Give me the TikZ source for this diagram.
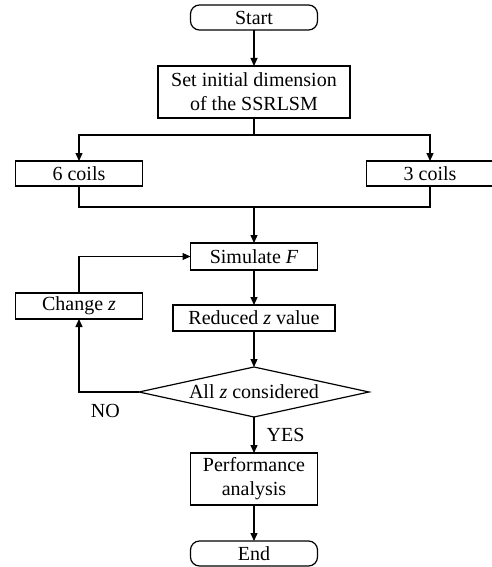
\documentclass[tikz,border=0pt]{standalone}
\usepackage{fontspec}
\setmainfont{Liberation Serif}
\usetikzlibrary{arrows.meta,positioning,calc,shapes.geometric}

\begin{document}
\begin{tikzpicture}[
  font=\fontsize{20}{24}\selectfont,
  line width=1.2pt,
  bx/.style={draw, align=center, minimum width=127pt, minimum height=26pt,
    inner xsep=2pt, inner ysep=1pt, outer sep=0pt},
  trm/.style={bx, rounded corners=9pt, minimum height=25pt},
  dec/.style={draw, diamond, aspect=4.6, inner sep=0pt, outer sep=0pt,
    minimum width=230pt, minimum height=50pt},
  arr/.style={-{Triangle[length=8pt,width=7pt]}},
  lbl/.style={inner sep=2pt}
]
\useasboundingbox (0,0) rectangle (491pt,-567pt);
\node[trm] (st) at (254pt,-17.5pt) {Start};
\node[bx, below=36pt of st, minimum width=192pt, minimum height=52pt] (set) {Set initial dimension\\of the SSRLSM};
\node[bx, below=43pt of set, xshift=-175pt, minimum height=25pt] (six) {6 coils};
\node[bx, below=43pt of set, xshift=176pt, minimum height=25pt] (thr) {3 coils};
\node[bx, below=125pt of set, minimum height=27pt] (sim) {Simulate \textit{F}};
\node[bx, below=107pt of six] (chg) {Change \textit{z}};
\node[bx, below=35pt of sim, minimum width=162pt] (red) {Reduced \textit{z} value};
\node[dec, below=36pt of red] (all) {All \textit{z} considered};
\node[bx, below=36pt of all, minimum height=52pt] (perf) {Performance\\analysis};
\node[trm, below=36pt of perf] (end) {End};
% split and join of the two coil branches
\coordinate (sp) at ($(set.south)+(0,-17pt)$);
\coordinate (jn) at ($(six.south)+(0,-21pt)$);
\draw[arr] (st) -- (set);
\draw (set.south) -- (sp);
\draw[arr] (sp) -| (six);
\draw[arr] (sp) -| (thr);
\draw (six.south) -- (jn) -| (thr.south);
\draw[arr] (jn -| sim) -- (sim);
\draw[arr] (sim) -- (red);
\draw[arr] (red) -- (all);
\draw[arr] (all.west) -| node[lbl, pos=0.28, below=10pt] {NO} (chg);
\draw[arr] (chg) |- (sim);
\draw[arr] (all) -- node[lbl, right=10pt] {YES} (perf);
\draw[arr] (perf) -- (end);
\end{tikzpicture}
\end{document}
